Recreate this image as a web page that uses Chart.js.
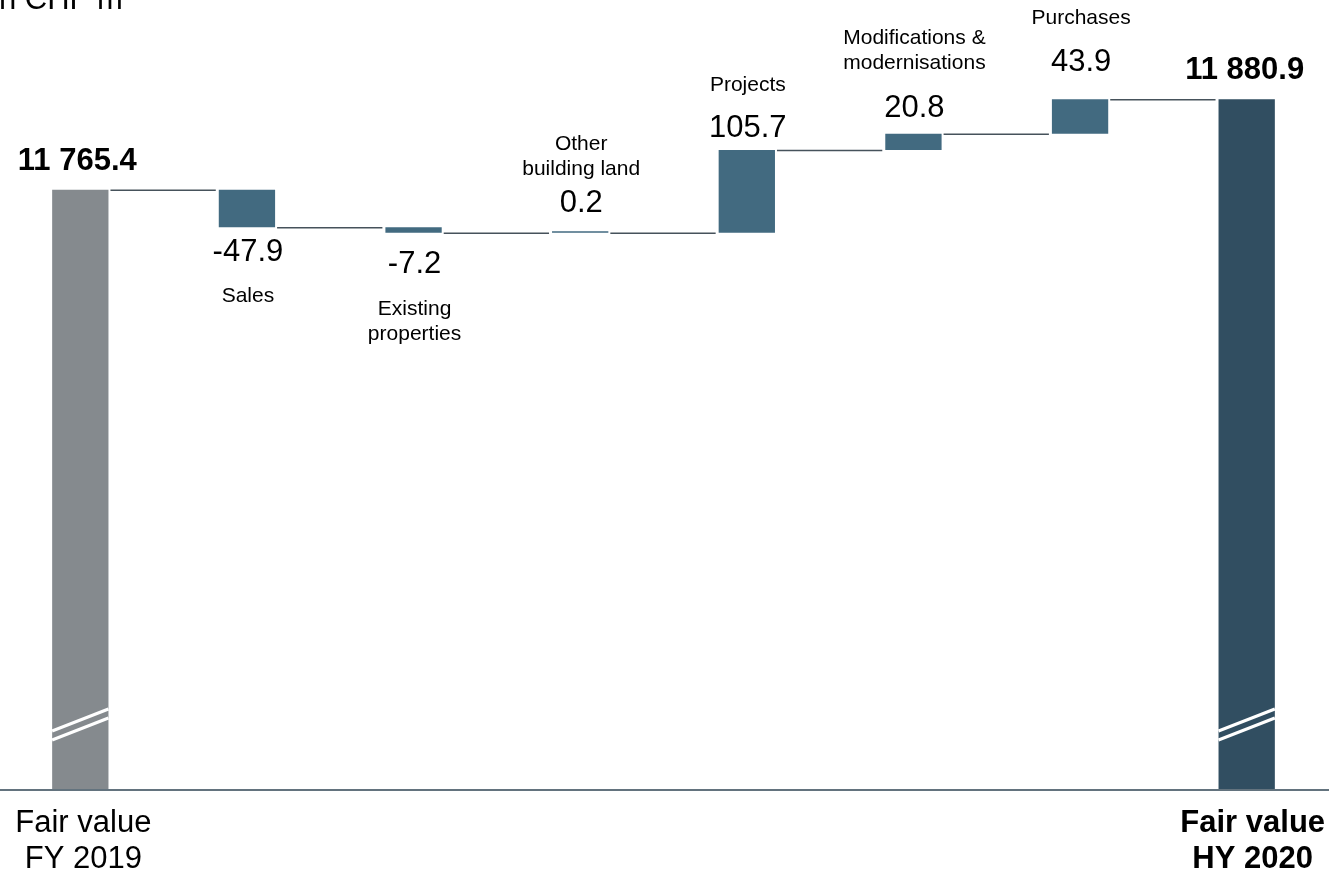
<!DOCTYPE html>
<html>
<head>
<meta charset="utf-8">
<script src="https://cdn.jsdelivr.net/npm/chart.js@4"></script>
<style>
  html, body { margin: 0; padding: 0; background: #fff; overflow: hidden; }
  #wrap { position: absolute; left: -3px; top: 0; width: 1333px; height: 873px; }
</style>
</head>
<body>
<div id="wrap"><canvas id="chart"></canvas></div>
<script>
// Veriler
const unitTitle = 'in CHF m';
const categories = ['Fair value FY 2019', 'Sales', 'Existing properties', 'Other building land',
    'Projects', 'Modifications & modernisations', 'Purchases', 'Fair value HY 2020'];
const nameLines = [['Fair value', 'FY 2019'], ['Sales'], ['Existing', 'properties'], ['Other', 'building land'],
    ['Projects'], ['Modifications &', 'modernisations'], ['Purchases'], ['Fair value', 'HY 2020']];
const startValue = 11765.4;
const deltas = [-47.9, -7.2, 0.2, 105.7, 20.8, 43.9];
const endValue = 11880.9;
const valueLabels = ['11 765.4', '-47.9', '-7.2', '0.2', '105.7', '20.8', '43.9', '11 880.9'];
const axisMin = 11000;
const axisMax = 12000;

// Renkler
const colors = {
    start: '#858a8e',
    delta: '#426a80',
    end: '#314e61',
    connector: '#46525b',
    axis: '#63737e',
    text: '#000000'
};
const fontFamily = '"Liberation Sans", Arial, sans-serif';

// Etiket yerleşimi (piksel)
const valueGap = [20, 34, 40, 19, 13, 17, 28, 20];
const nameGap = [0, 41, 42, 37, 46, 48, 47, 0];
const nameStep = 25;

// Kümülatif seviyeler ve kayan çubuklar
const levels = [startValue];
deltas.forEach(d => levels.push(+(levels[levels.length - 1] + d).toFixed(1)));
const barData = [[axisMin, startValue]];
deltas.forEach((d, i) => barData.push([levels[i], levels[i + 1]]));
barData.push([axisMin, endValue]);
const barColors = categories.map((_, i) => i === 0 ? colors.start : (i === categories.length - 1 ? colors.end : colors.delta));

const extras = {
    id: 'waterfallExtras',
    afterDatasetsDraw(chart) {
        const ctx = chart.ctx;
        const y = chart.scales.y;
        const bars = chart.getDatasetMeta(0).data;

        // Bağlantı çizgileri
        ctx.save();
        ctx.strokeStyle = colors.connector;
        ctx.lineWidth = 1.5;
        for (let i = 0; i < bars.length - 1; i++) {
            const lvl = i < levels.length ? levels[i] : endValue;
            const py = y.getPixelForValue(lvl) + 0.5;
            ctx.beginPath();
            ctx.moveTo(bars[i].x + bars[i].width / 2 + 2, py);
            ctx.lineTo(bars[i + 1].x - bars[i + 1].width / 2 - 3, py);
            ctx.stroke();
        }
        ctx.restore();

        // Eksen kırılma işaretleri
        const bottom = chart.chartArea.bottom;
        ctx.save();
        ctx.strokeStyle = '#ffffff';
        ctx.lineWidth = 3;
        [0, bars.length - 1].forEach(i => {
            const l = bars[i].x - bars[i].width / 2;
            const r = bars[i].x + bars[i].width / 2;
            [[58, 80], [49, 71]].forEach(([a, b]) => {
                ctx.beginPath();
                ctx.moveTo(l, bottom - a);
                ctx.lineTo(r, bottom - b);
                ctx.stroke();
            });
        });
        ctx.restore();

        // Yatay eksen
        ctx.save();
        ctx.strokeStyle = colors.axis;
        ctx.lineWidth = 2;
        ctx.beginPath();
        ctx.moveTo(0, bottom + 1);
        ctx.lineTo(chart.width, bottom + 1);
        ctx.stroke();
        ctx.restore();
    },
    afterDraw(chart) {
        const ctx = chart.ctx;
        const bars = chart.getDatasetMeta(0).data;
        const last = bars.length - 1;
        ctx.save();
        ctx.fillStyle = colors.text;
        ctx.textAlign = 'center';
        ctx.textBaseline = 'alphabetic';

        // Birim başlığı
        ctx.textAlign = 'left';
        ctx.font = '31px ' + fontFamily;
        ctx.fillText(unitTitle, -5, 9);
        ctx.textAlign = 'center';

        bars.forEach((bar, i) => {
            const top = Math.min(bar.y, bar.base);
            const bot = Math.max(bar.y, bar.base);
            const isTotal = i === 0 || i === last;
            const down = !isTotal && deltas[i - 1] < 0;
            const vy = down ? bot + valueGap[i] : top - valueGap[i];
            const vx = bar.x + (i === 0 ? -3 : (i === last ? -2 : 1));

            ctx.font = (isTotal ? 'bold ' : '') + '31px ' + fontFamily;
            ctx.fillText(valueLabels[i], vx, vy);

            if (isTotal) {
                const bx = bar.x + (i === 0 ? 3 : 6);
                ctx.font = (i === last ? 'bold ' : '') + '31px ' + fontFamily;
                ctx.fillText(nameLines[i][0], bx, 832);
                ctx.fillText(nameLines[i][1], bx, 868);
            } else {
                ctx.font = '21px ' + fontFamily;
                const lines = nameLines[i];
                if (down) {
                    lines.forEach((t, k) => ctx.fillText(t, bar.x + 1, vy + nameGap[i] + k * nameStep));
                } else {
                    lines.forEach((t, k) => ctx.fillText(t, bar.x + 1, vy - nameGap[i] - (lines.length - 1 - k) * nameStep));
                }
            }
        });
        ctx.restore();
    }
};

const chart = new Chart(document.getElementById('chart'), {
    type: 'bar',
    data: {
        labels: categories,
        datasets: [{
            data: barData,
            backgroundColor: barColors,
            borderWidth: 0,
            minBarLength: 1.5,
            barPercentage: 0.338,
            categoryPercentage: 1
        }]
    },
    options: {
        responsive: true,
        maintainAspectRatio: false,
        animation: false,
        layout: { padding: { top: 6, bottom: 84, left: 0, right: 0 } },
        plugins: { legend: { display: false }, tooltip: { enabled: false } },
        scales: {
            x: { display: false },
            y: { display: false, min: axisMin, max: axisMax }
        }
    },
    plugins: [extras]
});
</script>
</body>
</html>
